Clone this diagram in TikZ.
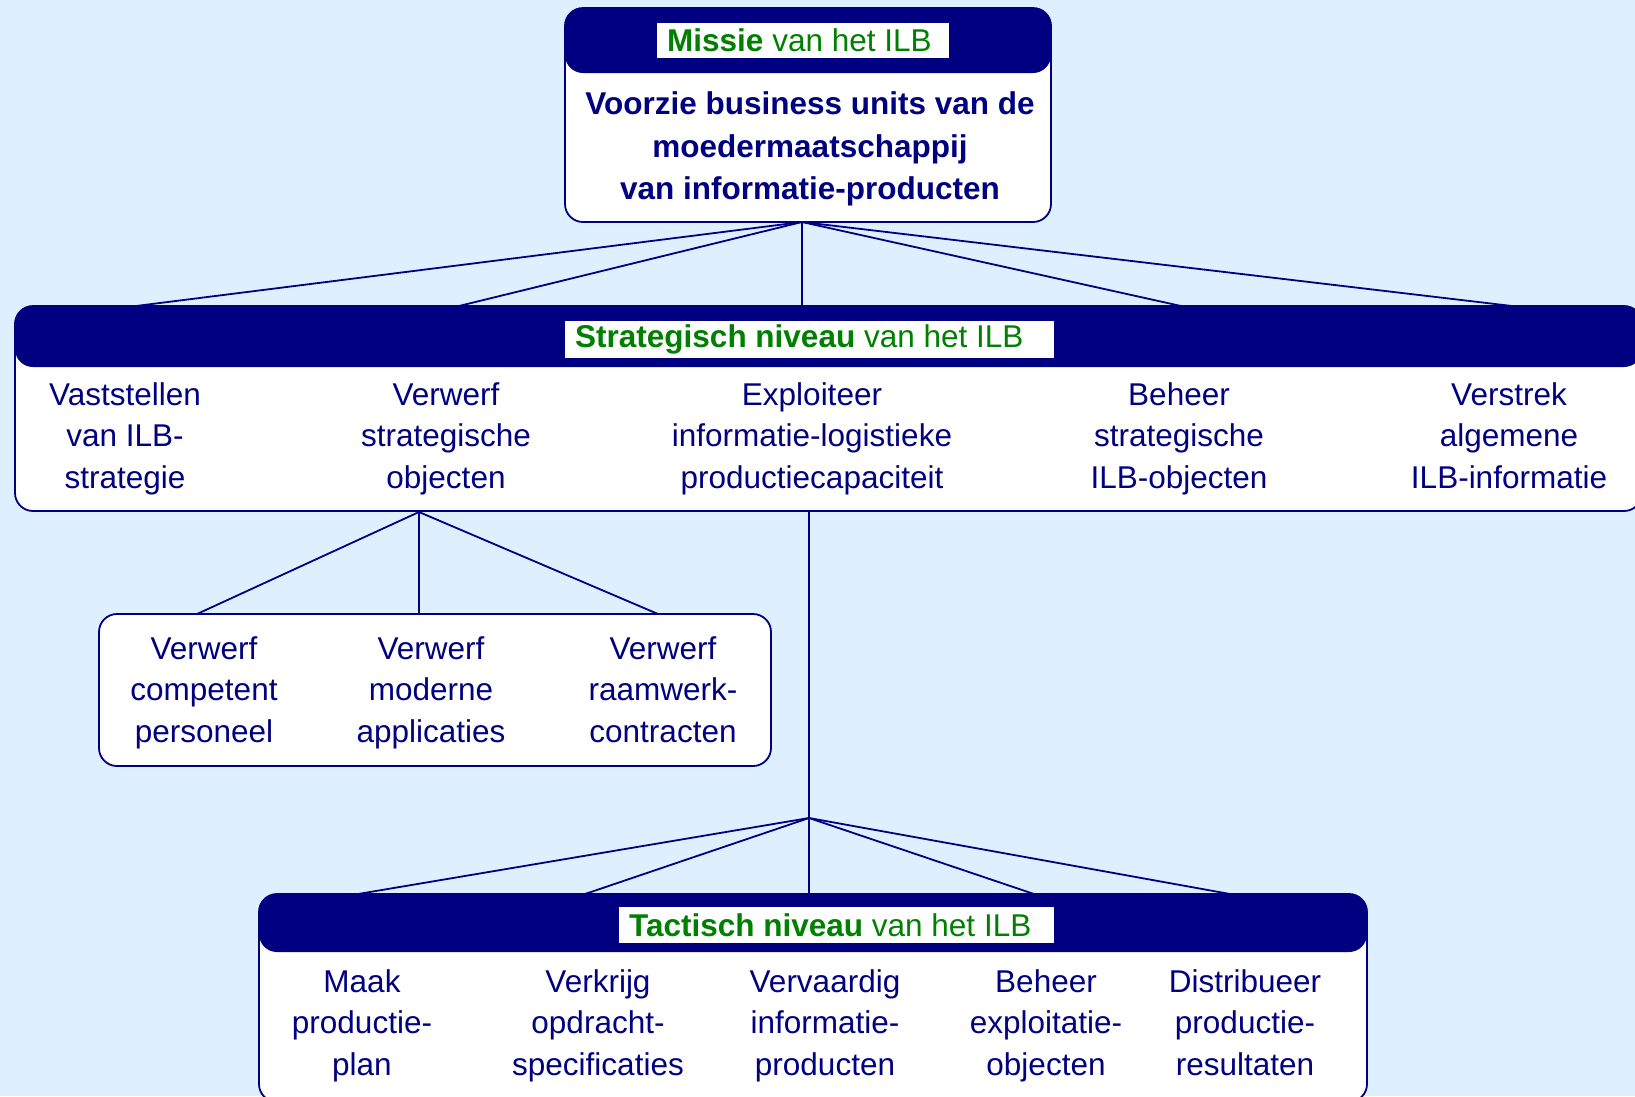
\documentclass[tikz,border=0pt]{standalone}
\usepackage{fontspec}
\setmainfont{Liberation Sans}
\definecolor{navy}{RGB}{0,0,128}
\definecolor{ilbgreen}{RGB}{0,128,0}
\definecolor{skyback}{RGB}{222,239,255}

\begin{document}
\begin{tikzpicture}[x=1pt,y=-1pt,
  frame/.style={draw=navy, line width=1.8pt, fill=white, rounded corners=18pt,
    inner sep=0pt, outer sep=0pt, anchor=north west},
  band/.style={fill=navy, rounded corners=18pt, inner sep=0pt, outer sep=0pt,
    anchor=north west},
  tagbox/.style={fill=white, inner sep=0pt, outer sep=0pt},
  tagtext/.style={text=ilbgreen, inner sep=0pt, anchor=west,
    font=\fontsize{31.5}{38}\selectfont},
  % multi-line labels: the base anchor sits on the baseline of the last line
  item/.style={text=navy, align=center, inner sep=0pt, anchor=base,
    font=\fontsize{31.5}{41.5}\selectfont},
  mission/.style={item, font=\fontsize{31.5}{42.3}\selectfont\bfseries},
  link/.style={draw=navy, line width=1.8pt}]

\useasboundingbox (0,0) rectangle (1635,1096);
\fill[skyback] (0,0) rectangle (1635,1096);
\clip (0,0) rectangle (1635,1096);

% ---------- mission ----------
\node[frame, minimum width=486pt, minimum height=214pt] (mbox) at (565,8) {};
\node[band, minimum width=486pt, minimum height=65pt] (mband) at (565,8) {};
\node[tagbox, minimum width=292pt, minimum height=35pt] (mtag) at (803,40.5) {};
\node[tagtext] (mtxt) at ([xshift=10pt]mtag.west) {\textbf{Missie} van het ILB};
\node[mission] (mtext) at (810,199.5) {Voorzie business units van de\\moedermaatschappij\\van informatie-producten};

% ---------- strategic level ----------
\node[frame, minimum width=1627pt, minimum height=205pt] (sbox) at (15,306) {};
\node[band, minimum width=1627pt, minimum height=61pt] (sband) at (15,306) {};
\node[tagbox, minimum width=489pt, minimum height=37pt] (stag) at (809.5,339.5) {};
\node[tagtext] (stxt) at ([xshift=10pt]stag.west) {\textbf{Strategisch niveau} van het ILB};

\node[item] (s1) at (125,488) {Vaststellen\\van ILB-\\strategie};
\node[item] (s2) at (446,488) {Verwerf\\strategische\\objecten};
\node[item] (s3) at (812,488) {Exploiteer\\informatie-logistieke\\productiecapaciteit};
\node[item] (s4) at (1179,488) {Beheer\\strategische\\ILB-objecten};
\node[item] (s5) at (1509,488) {Verstrek\\algemene\\ILB-informatie};

% ---------- acquisition sub-functions ----------
\node[frame, minimum width=672pt, minimum height=152pt] (vbox) at (99,614) {};
\node[item] (v1) at (204,742) {Verwerf\\competent\\personeel};
\node[item] (v2) at (431,742) {Verwerf\\moderne\\applicaties};
\node[item] (v3) at (663,742) {Verwerf\\raamwerk-\\contracten};

% ---------- tactical level ----------
\node[frame, minimum width=1108pt, minimum height=208pt] (tbox) at (259,894) {};
\node[band, minimum width=1108pt, minimum height=58pt] (tband) at (259,894) {};
\node[tagbox, minimum width=435pt, minimum height=36pt] (ttag) at (836.5,925) {};
\node[tagtext] (ttxt) at ([xshift=10pt]ttag.west) {\textbf{Tactisch niveau} van het ILB};

\node[item] (t1) at (362,1075) {Maak\\productie-\\plan};
\node[item] (t2) at (598,1075) {Verkrijg\\opdracht-\\specificaties};
\node[item] (t3) at (825,1075) {Vervaardig\\informatie-\\producten};
\node[item] (t4) at (1046,1075) {Beheer\\exploitatie-\\objecten};
\node[item] (t5) at (1245,1075) {Distribueer\\productie-\\resultaten};

% ---------- connector end points ----------
\coordinate (mhub) at (802,222);
\coordinate (sin1) at (136,306);
\coordinate (sin2) at (459,306);
\coordinate (sin3) at (802,306);
\coordinate (sin4) at (1181,306);
\coordinate (sin5) at (1512,306);

\coordinate (vhub) at (419,512);
\coordinate (vin1) at (197,614);
\coordinate (vin2) at (419,614);
\coordinate (vin3) at (658,614);

\coordinate (xout) at (809,512);
\coordinate (thub) at (809,818);
\coordinate (tin1) at (358,894);
\coordinate (tin2) at (585,894);
\coordinate (tin3) at (809,894);
\coordinate (tin4) at (1034,894);
\coordinate (tin5) at (1230,894);

% ---------- connectors ----------
\foreach \k in {1,...,5} \draw[link] (mhub) -- (sin\k);
\foreach \k in {1,2,3} \draw[link] (vhub) -- (vin\k);
\draw[link] (xout) -- (thub);
\foreach \k in {1,...,5} \draw[link] (thub) -- (tin\k);

\end{tikzpicture}
\end{document}
